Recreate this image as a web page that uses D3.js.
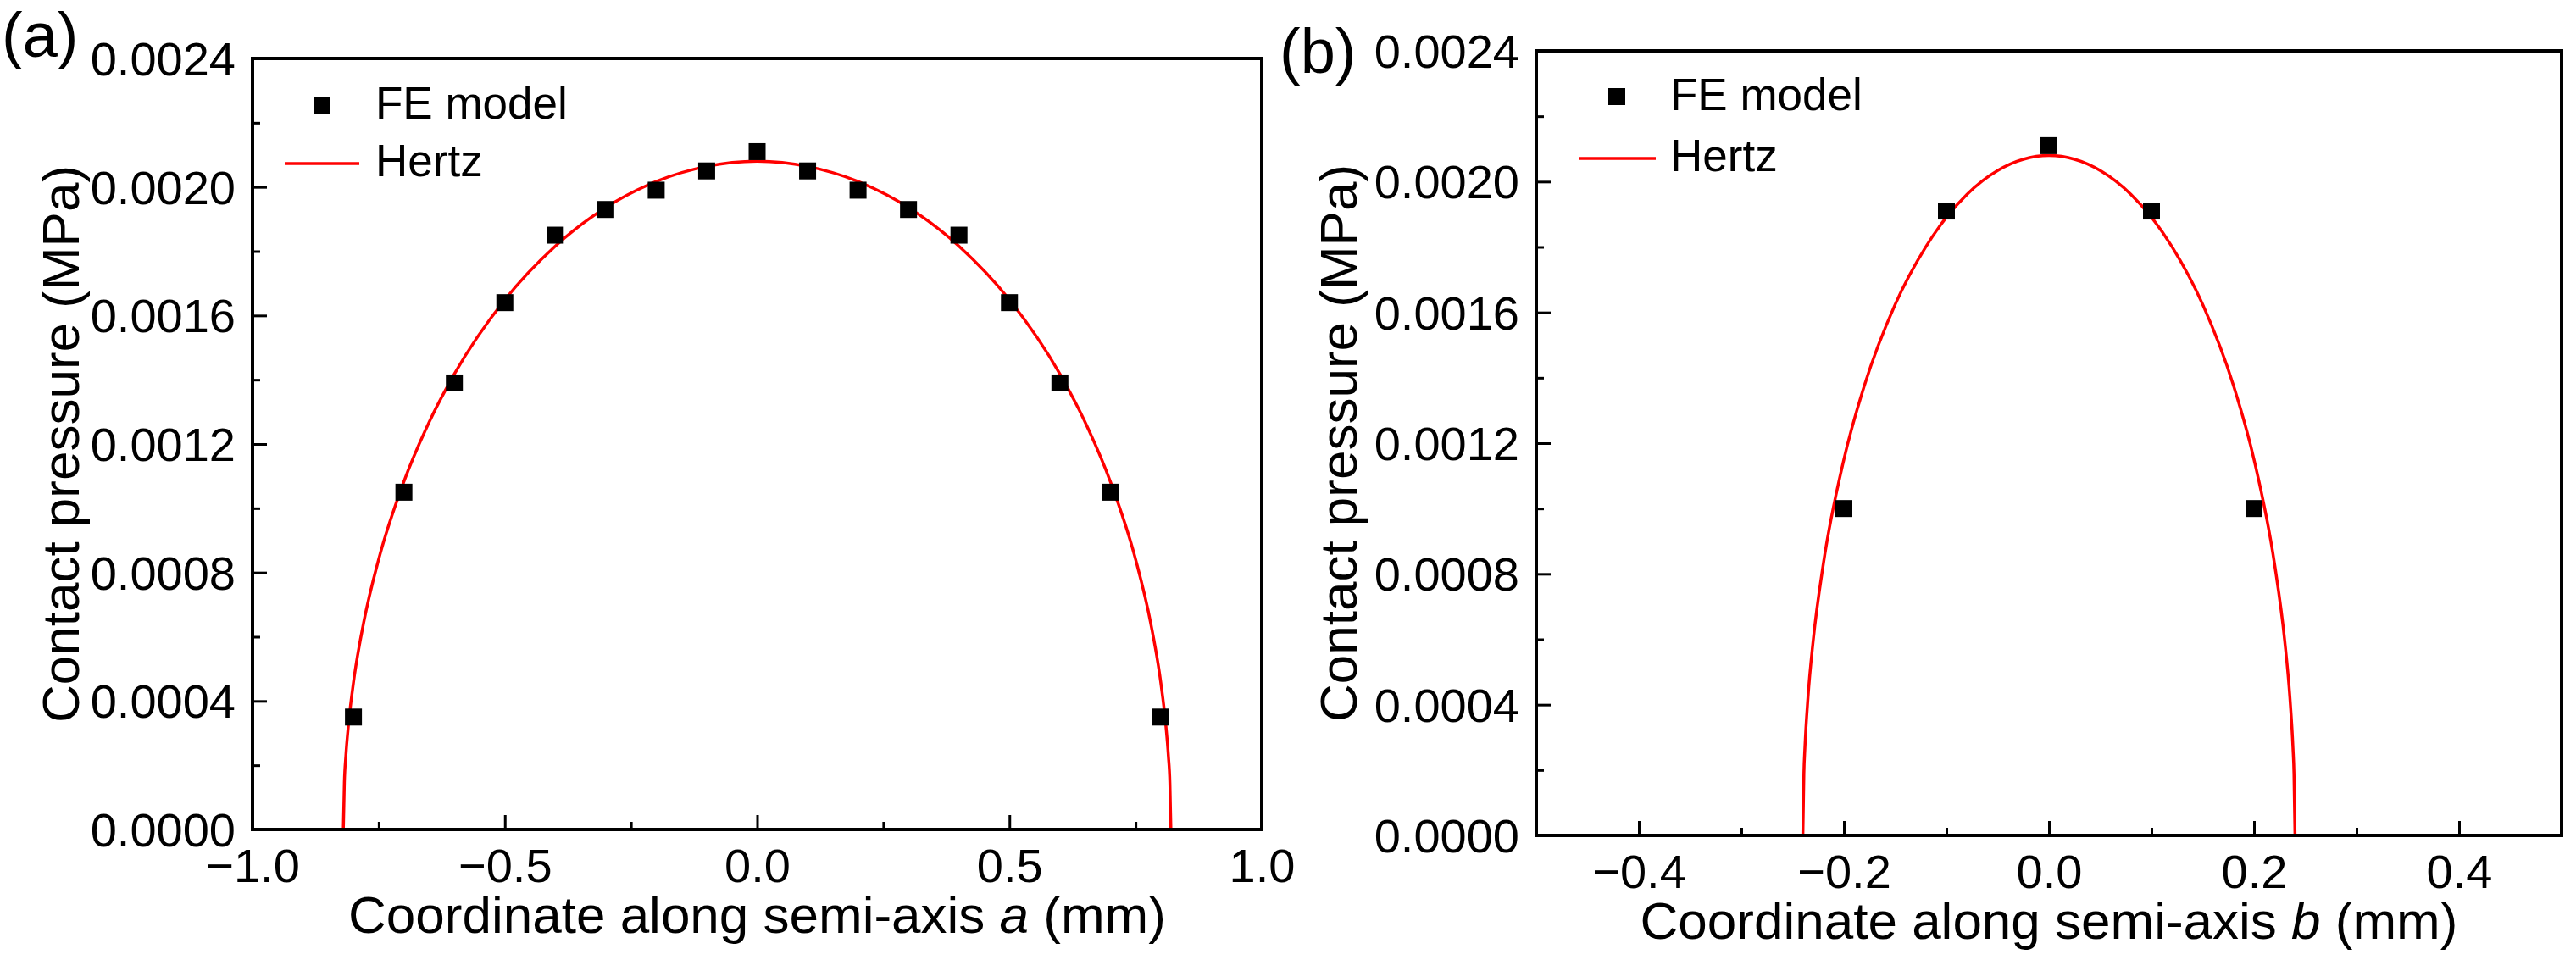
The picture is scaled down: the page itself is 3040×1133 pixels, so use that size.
<!DOCTYPE html>
<html>
<head>
<meta charset="utf-8">
<script src="https://cdn.jsdelivr.net/npm/d3@7"></script>
<style>
  body { margin: 0; background: #fff; }
  text { font-family: "Liberation Sans", Arial, sans-serif; fill: #000; }
</style>
</head>
<body>
<div id="chart"></div>
<script>
// FE model points along semi-axis a
const feAx = [-0.8, -0.7, -0.6, -0.5, -0.4, -0.3, -0.2, -0.1, 0.0, 0.1, 0.2, 0.3, 0.4, 0.5, 0.6, 0.7, 0.8];
const feAy = [0.00035, 0.00105, 0.00139, 0.00164, 0.00185, 0.00193, 0.00199, 0.00205, 0.00211,
              0.00205, 0.00199, 0.00193, 0.00185, 0.00164, 0.00139, 0.00105, 0.00035];

// Hertz curve read along semi-axis a
const hertzAx = [-0.82, -0.818, -0.815, -0.81, -0.80, -0.78, -0.75, -0.70, -0.65, -0.60, -0.50, -0.40, -0.30, -0.20, -0.10, 0.0,
                 0.10, 0.20, 0.30, 0.40, 0.50, 0.60, 0.65, 0.70, 0.75, 0.78, 0.80, 0.81, 0.815, 0.818, 0.82];
const hertzAy = [0, 0.000145, 0.000229, 0.000324, 0.000457, 0.000642, 0.000841, 0.001083, 0.001268, 0.001418, 0.001649, 0.001816, 0.001936, 0.002017, 0.002064, 0.00208,
                 0.002064, 0.002017, 0.001936, 0.001816, 0.001649, 0.001418, 0.001268, 0.001083, 0.000841, 0.000642, 0.000457, 0.000324, 0.000229, 0.000145, 0];

// FE model points along semi-axis b
const feBx = [-0.2, -0.1, 0.0, 0.1, 0.2];
const feBy = [0.00100, 0.00191, 0.00211, 0.00191, 0.00100];

// Hertz curve read along semi-axis b
const hertzBx = [-0.24, -0.239, -0.238, -0.235, -0.23, -0.22, -0.20, -0.18, -0.15, -0.12, -0.10, -0.08, -0.05, 0.0,
                 0.05, 0.08, 0.10, 0.12, 0.15, 0.18, 0.20, 0.22, 0.23, 0.235, 0.238, 0.239, 0.24];
const hertzBy = [0, 0.000190, 0.000268, 0.000422, 0.000594, 0.000831, 0.001150, 0.001376, 0.001624, 0.001801, 0.001891, 0.001961, 0.002034, 0.00208,
                 0.002034, 0.001961, 0.001891, 0.001801, 0.001624, 0.001376, 0.001150, 0.000831, 0.000594, 0.000422, 0.000268, 0.000190, 0];

const xTicksA = [-1.0, -0.5, 0.0, 0.5, 1.0];
const xMinorA = [-0.75, -0.25, 0.25, 0.75];
const xTicksB = [-0.4, -0.2, 0.0, 0.2, 0.4];
const xMinorB = [-0.3, -0.1, 0.1, 0.3];
const yTicks = [0, 0.0004, 0.0008, 0.0012, 0.0016, 0.0020, 0.0024];
const yMinor = [0.0002, 0.0006, 0.0010, 0.0014, 0.0018, 0.0022];
const legendLabels = ["FE model", "Hertz"];

const W = 3040, H = 1133;
const svg = d3.select("#chart").append("svg")
    .attr("width", W)
    .attr("height", H);

const panels = [
    {
        tag: "(a)", tagX: 2, tagY: 67,
        left: 298, right: 1489, top: 69, bottom: 979,
        xDomain: [-1, 1], xTicks: xTicksA, xMinor: xMinorA,
        fe: feAx.map((x, i) => ({ x: x, y: feAy[i] })),
        hertz: hertzAx.map((x, i) => ({ x: x, y: hertzAy[i] })),
        axisLetter: "a",
        yTitleX: 93,
        legend: { sq: [380, 124], line: [336, 424, 193], textX: 443, base: [140, 208] }
    },
    {
        tag: "(b)", tagX: 1510, tagY: 86,
        left: 1813, right: 3023, top: 60, bottom: 986,
        xDomain: [-0.5, 0.5], xTicks: xTicksB, xMinor: xMinorB,
        fe: feBx.map((x, i) => ({ x: x, y: feBy[i] })),
        hertz: hertzBx.map((x, i) => ({ x: x, y: hertzBy[i] })),
        axisLetter: "b",
        yTitleX: 1601,
        legend: { sq: [1908, 114], line: [1864, 1954, 187], textX: 1971, base: [130, 202] }
    }
];

panels.forEach(p => {
    const x = d3.scaleLinear().domain(p.xDomain).range([p.left, p.right]);
    const y = d3.scaleLinear().domain([0, 0.0024]).range([p.bottom, p.top]);
    const g = svg.append("g");

    // Hertz curve
    const line = d3.line()
        .x(d => x(d.x))
        .y(d => y(d.y))
        .curve(d3.curveMonotoneX);
    g.append("path")
        .datum(p.hertz)
        .attr("d", line)
        .attr("fill", "none")
        .attr("stroke", "#ff0000")
        .attr("stroke-width", 3.5);

    // FE model squares
    g.selectAll("rect.fe")
        .data(p.fe)
        .enter()
        .append("rect")
        .attr("class", "fe")
        .attr("x", d => x(d.x) - 10)
        .attr("y", d => y(d.y) - 10)
        .attr("width", 20)
        .attr("height", 20)
        .attr("fill", "#000");

    // minor ticks
    g.append("g")
        .attr("transform", `translate(0,${p.bottom})`)
        .call(d3.axisBottom(x).tickValues(p.xMinor).tickSize(-9).tickFormat(""))
        .call(a => a.select(".domain").remove())
        .call(a => a.selectAll("line").attr("stroke-width", 3));
    g.append("g")
        .attr("transform", `translate(${p.left},0)`)
        .call(d3.axisLeft(y).tickValues(yMinor).tickSize(-9).tickFormat(""))
        .call(a => a.select(".domain").remove())
        .call(a => a.selectAll("line").attr("stroke-width", 3));

    // major axes
    const xa = g.append("g")
        .attr("transform", `translate(0,${p.bottom})`)
        .call(d3.axisBottom(x).tickValues(p.xTicks).tickSize(-17).tickSizeOuter(0).tickFormat(d3.format(".1f")));
    xa.select(".domain").remove();
    xa.selectAll("line").attr("stroke-width", 3);
    xa.selectAll("text")
        .attr("y", 62).attr("dy", null)
        .style("font-size", "56px");

    const ya = g.append("g")
        .attr("transform", `translate(${p.left},0)`)
        .call(d3.axisLeft(y).tickValues(yTicks).tickSize(-17).tickSizeOuter(0).tickFormat(d3.format(".4f")));
    ya.select(".domain").remove();
    ya.selectAll("line").attr("stroke-width", 3);
    ya.selectAll("text")
        .attr("x", -20).attr("dy", "0.35em")
        .style("font-size", "56px");

    // frame
    g.append("rect")
        .attr("x", p.left)
        .attr("y", p.top)
        .attr("width", p.right - p.left)
        .attr("height", p.bottom - p.top)
        .attr("fill", "none")
        .attr("stroke", "#000")
        .attr("stroke-width", 4);

    // axis titles
    const xt = g.append("text")
        .attr("x", (p.left + p.right) / 2)
        .attr("y", p.bottom + 122)
        .attr("text-anchor", "middle")
        .style("font-size", "62px");
    xt.append("tspan").text("Coordinate along semi-axis ");
    xt.append("tspan").style("font-style", "italic").text(p.axisLetter);
    xt.append("tspan").text(" (mm)");

    g.append("text")
        .attr("transform", `translate(${p.yTitleX},${(p.top + p.bottom) / 2}) rotate(-90)`)
        .attr("text-anchor", "middle")
        .style("font-size", "62px")
        .text("Contact pressure (MPa)");

    // panel tag
    g.append("text")
        .attr("x", p.tagX)
        .attr("y", p.tagY)
        .style("font-size", "74px")
        .text(p.tag);

    // legend
    const L = p.legend;
    g.append("rect")
        .attr("x", L.sq[0] - 10).attr("y", L.sq[1] - 10)
        .attr("width", 20).attr("height", 20)
        .attr("fill", "#000");
    g.append("line")
        .attr("x1", L.line[0]).attr("x2", L.line[1])
        .attr("y1", L.line[2]).attr("y2", L.line[2])
        .attr("stroke", "#ff0000")
        .attr("stroke-width", 3.5);
    legendLabels.forEach((t, i) => {
        g.append("text")
            .attr("x", L.textX)
            .attr("y", L.base[i])
            .style("font-size", "53px")
            .text(t);
    });
});
</script>
</body>
</html>
